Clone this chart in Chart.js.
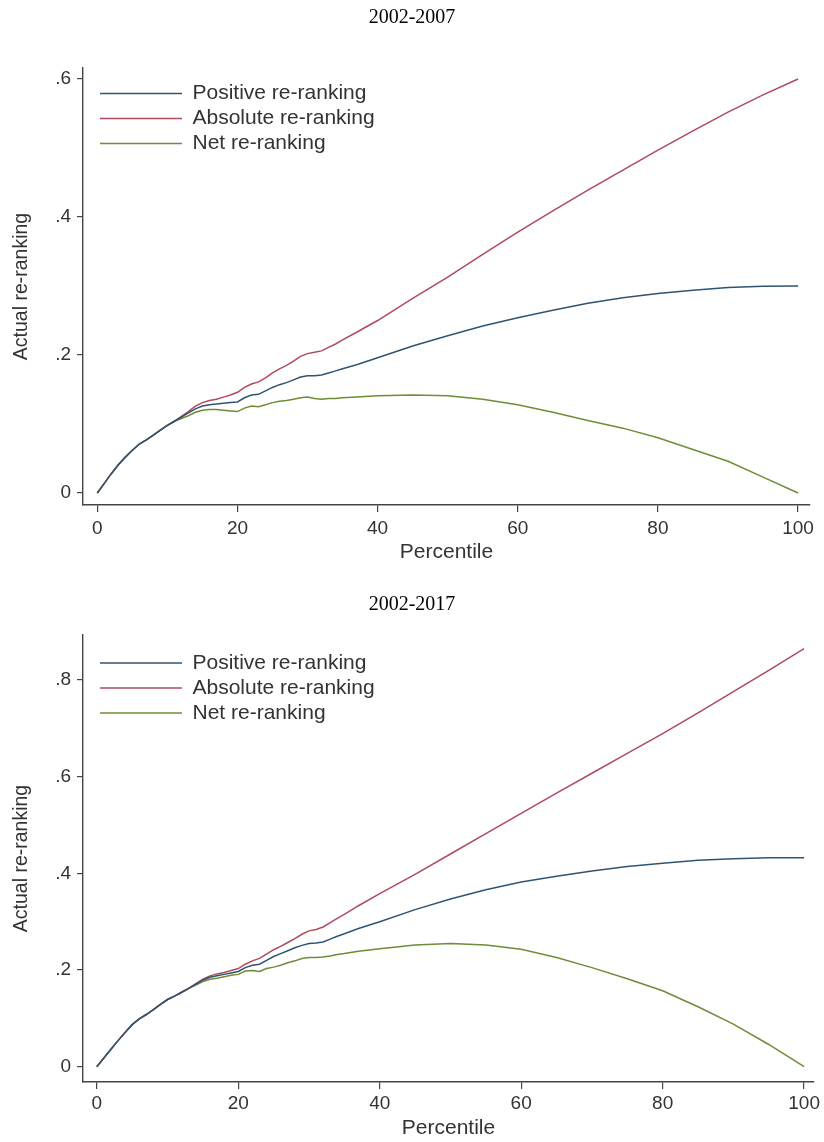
<!DOCTYPE html>
<html>
<head>
<meta charset="utf-8">
<script src="https://cdn.jsdelivr.net/npm/chart.js@4.4.1/dist/chart.umd.min.js"></script>
<style>
html,body{margin:0;padding:0;background:#fff;width:824px;height:1142px;overflow:hidden;}
canvas{position:absolute;left:0;}
#c1{top:0;}
#c2{top:572px;}
</style>
</head>
<body>
<canvas id="c1" width="824" height="572"></canvas>
<canvas id="c2" width="824" height="570"></canvas>
<script>
// ---- data ----
const percentiles = [0,1,2,3,4,5,6,7,8,9,10,11,12,13,14,15,16,17,18,19,20,21,22,23,24,25,26,27,28,29,30,31,32,33,34,35,37,40,45,50,55,60,65,70,75,80,85,90,95,100];

const positive0207 = [0,.014,.028,.041,.052,.062,.071,.077,.084,.091,.098,.104,.110,.116,.122,.126,.128,.129,.130,.131,.132,.138,.142,.143,.148,.153,.157,.160,.164,.168,.170,.170,.171,.174,.177,.180,.186,.196,.213,.228,.242,.254,.265,.275,.283,.289,.294,.298,.2995,.300];
const absolute0207 = [0,.014,.028,.041,.052,.062,.071,.077,.084,.091,.098,.104,.111,.118,.126,.131,.134,.136,.139,.142,.146,.153,.158,.161,.167,.174,.180,.185,.191,.198,.202,.204,.206,.211,.216,.222,.233,.250,.282,.313,.346,.378,.409,.439,.468,.497,.525,.552,.577,.600];
const net0207 = [0,.014,.028,.041,.052,.062,.071,.077,.084,.091,.098,.104,.108,.112,.117,.120,.121,.121,.120,.119,.118,.123,.126,.125,.128,.131,.133,.134,.136,.138,.139,.137,.136,.137,.137,.138,.139,.141,.142,.141,.136,.128,.117,.105,.094,.080,.063,.046,.023,0];

const positive0217 = [0,.018,.036,.054,.071,.087,.099,.108,.118,.129,.139,.146,.154,.162,.171,.179,.185,.188,.191,.194,.197,.205,.210,.212,.220,.228,.234,.240,.246,.251,.255,.256,.258,.264,.270,.275,.286,.300,.325,.347,.366,.382,.394,.405,.414,.421,.427,.430,.432,.432];
const absolute0217 = [0,.018,.036,.054,.071,.087,.099,.108,.118,.129,.139,.146,.154,.162,.172,.181,.188,.192,.195,.199,.203,.212,.219,.224,.233,.242,.249,.257,.265,.274,.281,.284,.289,.298,.307,.315,.333,.358,.398,.440,.482,.524,.566,.607,.648,.689,.732,.776,.820,.865];
const net0217 = [0,.018,.036,.054,.071,.087,.099,.108,.118,.129,.139,.146,.154,.162,.169,.176,.181,.183,.186,.189,.191,.198,.199,.197,.203,.206,.210,.215,.219,.224,.226,.226,.227,.229,.232,.234,.239,.244,.252,.255,.252,.243,.226,.205,.182,.157,.124,.088,.046,0];

const seriesNames = ['Positive re-ranking','Absolute re-ranking','Net re-ranking'];
const xTicks = [0,20,40,60,80,100];
const yTicks0207 = [0,0.2,0.4,0.6];
const yTicks0217 = [0,0.2,0.4,0.6,0.8];
const titles = ['2002-2007','2002-2017'];
const xTitle = 'Percentile';
const yTitle = 'Actual re-ranking';

// ---- styles ----
const lineColors = ['#2f5472','#b0495e','#6f8c36'];
const SANS = "'Liberation Sans', Arial, sans-serif";
const SERIF = "'Liberation Serif', 'Times New Roman', serif";
const TXT = '#333333';
const AX = '#444444';

const boxShift = {
  id: 'boxShift',
  afterLayout(chart, args, opts) {
    const lg = chart.legend;
    if (lg) {
      const w = lg.width, h = lg.height;
      lg.left = opts.left; lg.top = opts.top;
      lg.right = lg.left + w; lg.bottom = lg.top + h;
    }
    const tb = chart.titleBlock;
    if (tb) { tb.left = 0; tb.right = chart.width; tb.width = chart.width; }
  }
};

function fmtY(v) {
  if (Math.abs(v) < 1e-9) return '0';
  return v.toFixed(1).replace(/^0/, '');
}

function makeChart(id, title, series, yTicks, g) {
  const datasets = series.map((vals, i) => ({
    label: seriesNames[i],
    data: percentiles.map((p, k) => ({x: p, y: vals[k]})),
    borderColor: lineColors[i],
    backgroundColor: lineColors[i],
    borderWidth: 1.5,
    pointRadius: 0,
    tension: 0,
    fill: false
  }));
  return new Chart(document.getElementById(id), {
    type: 'line',
    data: {datasets},
    plugins: [boxShift],
    options: {
      responsive: false,
      animation: false,
      devicePixelRatio: 1,
      events: [],
      layout: {padding: {left: 0, right: g.padRight, top: 0, bottom: 0}},
      plugins: {
        tooltip: {enabled: false},
        title: {
          display: true, text: title, color: '#000',
          font: {family: SERIF, size: 20, weight: 'normal'},
          padding: {top: g.titleTop, bottom: g.titleBottom}
        },
        legend: {
          display: true,
          position: 'chartArea',
          align: 'start',
          labels: {
            usePointStyle: true,
            pointStyle: 'line',
            pointStyleWidth: 82,
            padding: 4,
            color: TXT,
            font: {family: SANS, size: 21}
          }
        },
        boxShift: {left: g.legendLeft, top: g.legendTop}
      },
      scales: {
        x: {
          type: 'linear',
          min: g.xMin, max: g.xMax,
          afterBuildTicks: s => { s.ticks = xTicks.map(v => ({value: v})); },
          afterFit: s => { s.height = g.xHeight; },
          ticks: {color: TXT, font: {family: SANS, size: 19}, padding: g.xTickPad, maxRotation: 0, autoSkip: false},
          grid: {display: true, drawOnChartArea: false, drawTicks: true, tickLength: 7, color: AX, lineWidth: 1.2},
          border: {display: true, color: AX, width: 1.4},
          title: {display: true, text: xTitle, color: TXT, font: {family: SANS, size: 21}, padding: {top: 0, bottom: g.xTitlePad}}
        },
        y: {
          type: 'linear',
          min: g.yMin, max: g.yMax,
          afterBuildTicks: s => { s.ticks = yTicks.map(v => ({value: v})); },
          afterFit: s => { s.width = 83; },
          ticks: {color: TXT, font: {family: SANS, size: 19}, padding: 6, callback: v => fmtY(v), autoSkip: false},
          grid: {display: true, drawOnChartArea: false, drawTicks: true, tickLength: 6, color: AX, lineWidth: 1.2},
          border: {display: true, color: AX, width: 1.4},
          title: {display: true, text: yTitle, color: TXT, font: {family: SANS, size: 19.5}, padding: {top: 10, bottom: 0}}
        }
      }
    }
  });
}

makeChart('c1', titles[0], [positive0207, absolute0207, net0207], yTicks0207, {
  padRight: 14, titleTop: 6, titleBottom: 38,
  xMin: -2.04, xMax: 101.7, yMin: -0.0174, yMax: 0.616,
  xHeight: 67, xTickPad: 5, xTitlePad: 7,
  legendLeft: 96, legendTop: 79
});
makeChart('c2', titles[1], [positive0217, absolute0217, net0217], yTicks0217, {
  padRight: 10, titleTop: 21, titleBottom: 18,
  xMin: -1.95, xMax: 101.4, yMin: -0.0316, yMax: 0.893,
  xHeight: 60, xTickPad: 3, xTitlePad: 1.5,
  legendLeft: 96, legendTop: 76.5
});
</script>
</body>
</html>
